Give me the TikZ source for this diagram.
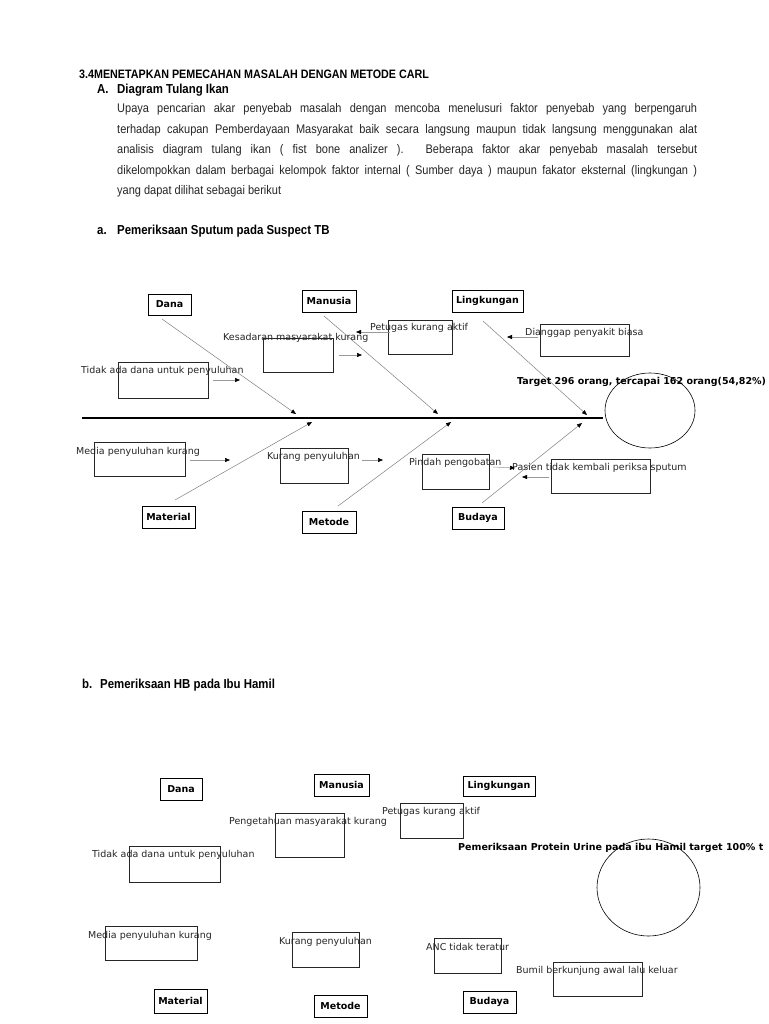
\documentclass[tikz,border=0pt]{standalone}
\usepackage{fontspec}
\setmainfont{Liberation Sans}[FakeStretch=0.88]
\newfontfamily\dv{DejaVu Sans}
\usetikzlibrary{arrows.meta}
\begin{document}
\begin{tikzpicture}[x=1pt,y=-1pt,
  catbox/.style={draw=black, line width=0.8pt, inner sep=0pt, font=\dv\bfseries\fontsize{9.5}{11}\selectfont},
  cbox/.style={draw=black!85, line width=0.8pt, inner sep=0pt},
  ctext/.style={inner sep=0pt, anchor=west, font=\dv\fontsize{9.5}{11}\selectfont, text=black!85},
  ttext/.style={inner sep=0pt, anchor=west, font=\dv\bfseries\fontsize{9.5}{11}\selectfont},
  bone/.style={draw=black!50, line width=0.5pt, -{Triangle[length=5pt,width=4pt,color=black]}},
  sarrow/.style={draw=black!40, line width=0.5pt, -{Triangle[length=5pt,width=4pt,color=black]}},
  spine/.style={draw=black, line width=1.5pt},
  fishhead/.style={draw=black, line width=0.6pt},
  body/.style={inner sep=0pt, anchor=base west, font=\fontsize{12.5}{14}\selectfont, text=black!85},
  head/.style={inner sep=0pt, anchor=base west, font=\bfseries\fontsize{12.2}{14}\selectfont},
  sub/.style={inner sep=0pt, anchor=base west, font=\bfseries\fontsize{13}{14}\selectfont}]
\useasboundingbox (0,0) rectangle (768,1024);
\fill[white] (0,0) rectangle (768,1024);

% ---------- header ----------
\node[head] (h1) at (79,79) {3.4MENETAPKAN PEMECAHAN MASALAH DENGAN METODE CARL};
\node[sub] (hA) at (97,93.5) {A.};
\node[sub] (hAt) at (117,93.5) {Diagram Tulang Ikan};
\node[body] (l1) at (117,112.5) {\makebox[580pt][s]{Upaya pencarian akar penyebab masalah dengan mencoba menelusuri faktor penyebab yang berpengaruh}};
\node[body] (l2) at (117,133.5) {\makebox[580pt][s]{terhadap cakupan Pemberdayaan Masyarakat baik secara langsung maupun tidak langsung menggunakan alat}};
\node[body] (l3) at (117,153.5) {\makebox[580pt][s]{analisis diagram tulang ikan ( fist bone analizer ). Beberapa faktor akar penyebab masalah tersebut}};
\node[body] (l4) at (117,174.5) {\makebox[580pt][s]{dikelompokkan dalam berbagai kelompok faktor internal ( Sumber daya ) maupun fakator eksternal (lingkungan )}};
\node[body] (l5) at (117,194.5) {yang dapat dilihat sebagai berikut};
\node[sub] (ha) at (97,234.5) {a.};
\node[sub] (hat) at (117,234.5) {Pemeriksaan Sputum pada Suspect TB};

% ---------- diagram a ----------
\draw[spine] (82,418) -- (603,418);
\draw[fishhead] (650,410.5) ellipse [x radius=45, y radius=37.5];

\node[catbox, minimum width=43pt, minimum height=21pt] (adana) at (169.5,304.5) {Dana};
\node[catbox, minimum width=54pt, minimum height=22pt] (aman) at (329,301) {Manusia};
\node[catbox, minimum width=71pt, minimum height=22pt] (aling) at (487.5,301) {Lingkungan};
\node[catbox, minimum width=53pt, minimum height=22pt] (amat) at (168.5,517) {Material};
\node[catbox, minimum width=54pt, minimum height=22pt] (amet) at (329,522) {Metode};
\node[catbox, minimum width=52pt, minimum height=22pt] (abud) at (478,518) {Budaya};

\coordinate (bd0) at (162,319); \coordinate (bd1) at (296,414);
\coordinate (bm0) at (324,316); \coordinate (bm1) at (438,414);
\coordinate (bl0) at (483,321); \coordinate (bl1) at (587,415);
\coordinate (bt0) at (175,500); \coordinate (bt1) at (312,422);
\coordinate (be0) at (338,506); \coordinate (be1) at (451,422);
\coordinate (bb0) at (482,503); \coordinate (bb1) at (582,423);
\draw[bone] (bd0) -- (bd1);
\draw[bone] (bm0) -- (bm1);
\draw[bone] (bl0) -- (bl1);
\draw[bone] (bt0) -- (bt1);
\draw[bone] (be0) -- (be1);
\draw[bone] (bb0) -- (bb1);

\node[cbox, minimum width=70pt, minimum height=34pt] (akesb) at (298,355) {};
\node[cbox, minimum width=64pt, minimum height=34pt] (apetb) at (420,337) {};
\node[cbox, minimum width=89pt, minimum height=32pt] (adiab) at (584.5,340) {};
\node[cbox, minimum width=90pt, minimum height=36pt] (atidb) at (163,380) {};
\node[cbox, minimum width=91pt, minimum height=34pt] (amedb) at (139.5,459) {};
\node[cbox, minimum width=68pt, minimum height=35pt] (akurb) at (314,465.5) {};
\node[cbox, minimum width=67pt, minimum height=35pt] (apinb) at (455.5,471.5) {};
\node[cbox, minimum width=99pt, minimum height=34pt] (apasb) at (600.5,476) {};

\node[ctext] (akes) at (223,338) {Kesadaran masyarakat kurang};
\node[ctext] (apet) at (370,328) {Petugas kurang aktif};
\node[ctext] (adia) at (525,333) {Dianggap penyakit biasa};
\node[ctext] (atid) at (81,371) {Tidak ada dana untuk penyuluhan};
\node[ctext] (amed) at (76,452) {Media penyuluhan kurang};
\node[ctext] (akur) at (267,457) {Kurang penyuluhan};
\node[ctext] (apin) at (409,463) {Pindah pengobatan};
\node[ctext] (apas) at (512,468) {Pasien tidak kembali periksa sputum};
\node[ttext] (atarget) at (517,382) {Target 296 orang, tercapai 162 orang(54,82\%)};

\coordinate (s1a) at (339,355); \coordinate (s1b) at (362,355);
\coordinate (s2a) at (390,332); \coordinate (s2b) at (356,332);
\coordinate (s3a) at (538,337); \coordinate (s3b) at (507,337);
\coordinate (s4a) at (213,380); \coordinate (s4b) at (240,380);
\coordinate (s5a) at (190,460); \coordinate (s5b) at (230,460);
\coordinate (s6a) at (362,460); \coordinate (s6b) at (383,460);
\coordinate (s7a) at (493,467); \coordinate (s7b) at (515,468);
\coordinate (s8a) at (549,477); \coordinate (s8b) at (522,477);
\draw[sarrow] (s1a) -- (s1b);
\draw[sarrow] (s2a) -- (s2b);
\draw[sarrow] (s3a) -- (s3b);
\draw[sarrow] (s4a) -- (s4b);
\draw[sarrow] (s5a) -- (s5b);
\draw[sarrow] (s6a) -- (s6b);
\draw[sarrow] (s7a) -- (s7b);
\draw[sarrow] (s8a) -- (s8b);

% ---------- diagram b ----------
\node[sub] (hb) at (82,688.5) {b.};
\node[sub] (hbt) at (100,688.5) {Pemeriksaan HB pada Ibu Hamil};

\node[catbox, minimum width=42pt, minimum height=22pt] (bdana) at (181,789) {Dana};
\node[catbox, minimum width=55pt, minimum height=22pt] (bman) at (341.5,785) {Manusia};
\node[catbox, minimum width=72pt, minimum height=20pt] (bling) at (499,786) {Lingkungan};
\node[catbox, minimum width=53pt, minimum height=24pt] (bmat) at (180.5,1001) {Material};
\node[catbox, minimum width=53pt, minimum height=22pt] (bmet) at (340.5,1006) {Metode};
\node[catbox, minimum width=53pt, minimum height=22pt] (bbud) at (489.5,1002) {Budaya};

\node[cbox, minimum width=69pt, minimum height=44pt] (bpengb) at (309.5,835) {};
\node[cbox, minimum width=63pt, minimum height=35pt] (bpetb) at (431.5,820.5) {};
\node[cbox, minimum width=91pt, minimum height=36pt] (btidb) at (174.5,864) {};
\node[cbox, minimum width=92pt, minimum height=34pt] (bmedb) at (151,943) {};
\node[cbox, minimum width=67pt, minimum height=35pt] (bkurb) at (325.5,949.5) {};
\node[cbox, minimum width=67pt, minimum height=35pt] (bancb) at (467.5,955.5) {};
\node[cbox, minimum width=89pt, minimum height=34pt] (bbumb) at (597.5,979) {};

\node[ctext] (bpeng) at (229,822) {Pengetahuan masyarakat kurang};
\node[ctext] (bpet) at (382,812) {Petugas kurang aktif};
\node[ctext] (btid) at (92,855) {Tidak ada dana untuk penyuluhan};
\node[ctext] (bmed) at (88,936) {Media penyuluhan kurang};
\node[ctext] (bkur) at (279,942) {Kurang penyuluhan};
\node[ctext] (banc) at (426,947) {ANC tidak teratur};
\node[ctext] (bbum) at (516,971) {Bumil berkunjung awal lalu keluar};
\node[ttext] (btarget) at (458,848) {Pemeriksaan Protein Urine pada ibu Hamil target 100\% t};
\draw[fishhead] (648.5,887.5) ellipse [x radius=51.5, y radius=48.5];
\end{tikzpicture}
\end{document}
